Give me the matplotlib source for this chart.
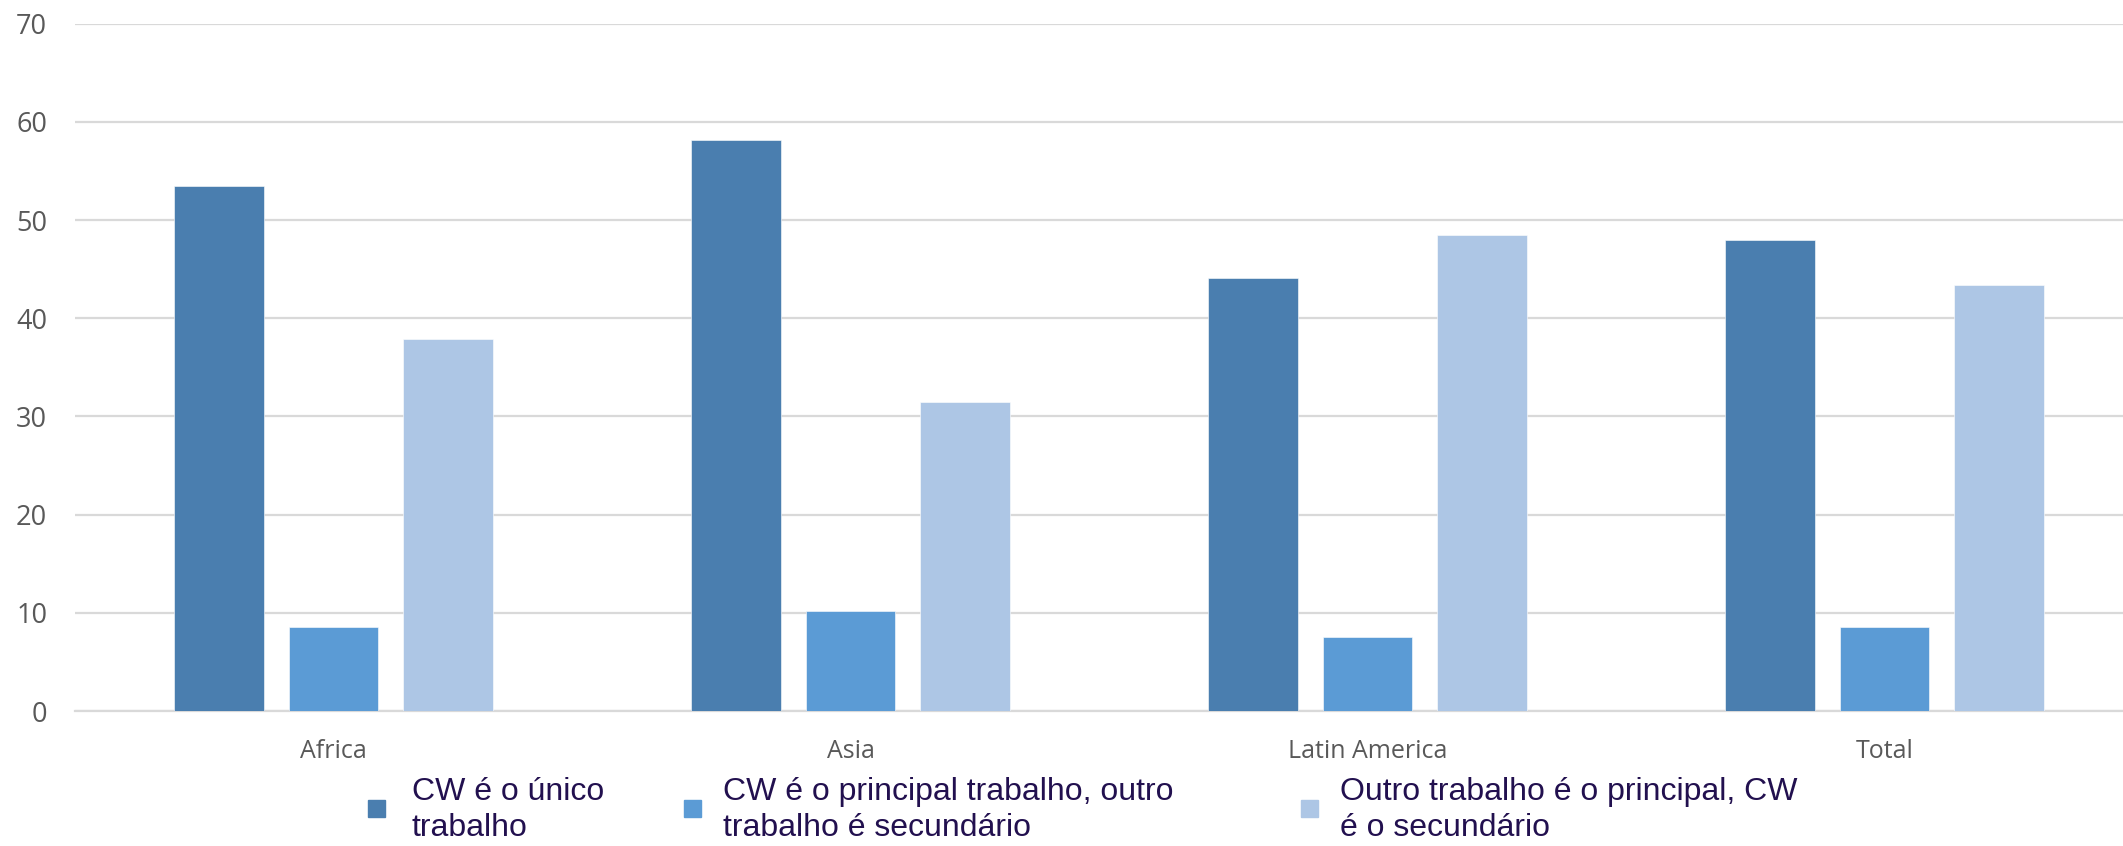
import matplotlib.pyplot as plt
import matplotlib.patches as mpatches
import numpy as np

# Share of workers by region (%)
regions = ['Africa', 'Asia', 'Latin America', 'Total']
cw_only = [53.5, 58.2, 44.1, 48.0]
cw_main = [8.6, 10.2, 7.5, 8.6]
cw_secondary = [37.9, 31.5, 48.5, 43.4]

series = [cw_only, cw_main, cw_secondary]
labels = ['CW é o único\ntrabalho',
          'CW é o principal trabalho, outro\ntrabalho é secundário',
          'Outro trabalho é o principal, CW\né o secundário']
colors = ['#4A7EAF', '#5B9BD5', '#ADC6E5']

W, H = 2123, 846
fig = plt.figure(figsize=(W / 100, H / 100), dpi=100)
ax = fig.add_axes([75 / W, 1 - 711 / H, 2068 / W, (711 - 23.7) / H])

x = np.arange(len(regions))
step = 0.2215
width = 0.174
for k, (vals, c) in enumerate(zip(series, colors)):
    ax.bar(x + (k - 1) * step, vals, width, color=c, edgecolor='white',
           linewidth=0.4, zorder=3)

ax.set_xlim(-0.5, 3.5)
ax.set_ylim(0, 70)
ax.set_yticks(np.arange(0, 71, 10))
ax.set_xticks(x)
ax.set_xticklabels(regions)
ax.grid(axis='y', color='#D9D9D9', linewidth=1.6, zorder=0)
ax.set_axisbelow(True)
for s in ['top', 'right', 'left']:
    ax.spines[s].set_visible(False)
ax.spines['bottom'].set_color('#D9D9D9')
ax.spines['bottom'].set_linewidth(1.6)
ax.tick_params(axis='both', length=0, colors='#595959')
ax.tick_params(axis='y', pad=20, labelsize=19.5)
ax.tick_params(axis='x', pad=20, labelsize=18)
for t in ax.get_xticklabels() + ax.get_yticklabels():
    t.set_fontfamily('Open Sans')

# legend drawn by hand so the spacing follows the original
marker_x = [368, 684, 1301]
text_x = [412, 723, 1340]
for mx, tx, lab, c in zip(marker_x, text_x, labels, colors):
    fig.patches.append(mpatches.Rectangle((mx / W, 1 - 817 / H), 17 / W, 17 / H,
                                          transform=fig.transFigure, color=c))
    fig.text(tx / W, 1 - 810 / H, lab, ha='left', va='center',
             fontsize=23, color='#22104F', family='Liberation Sans',
             linespacing=1.25)

plt.savefig('out.png', dpi=100)
